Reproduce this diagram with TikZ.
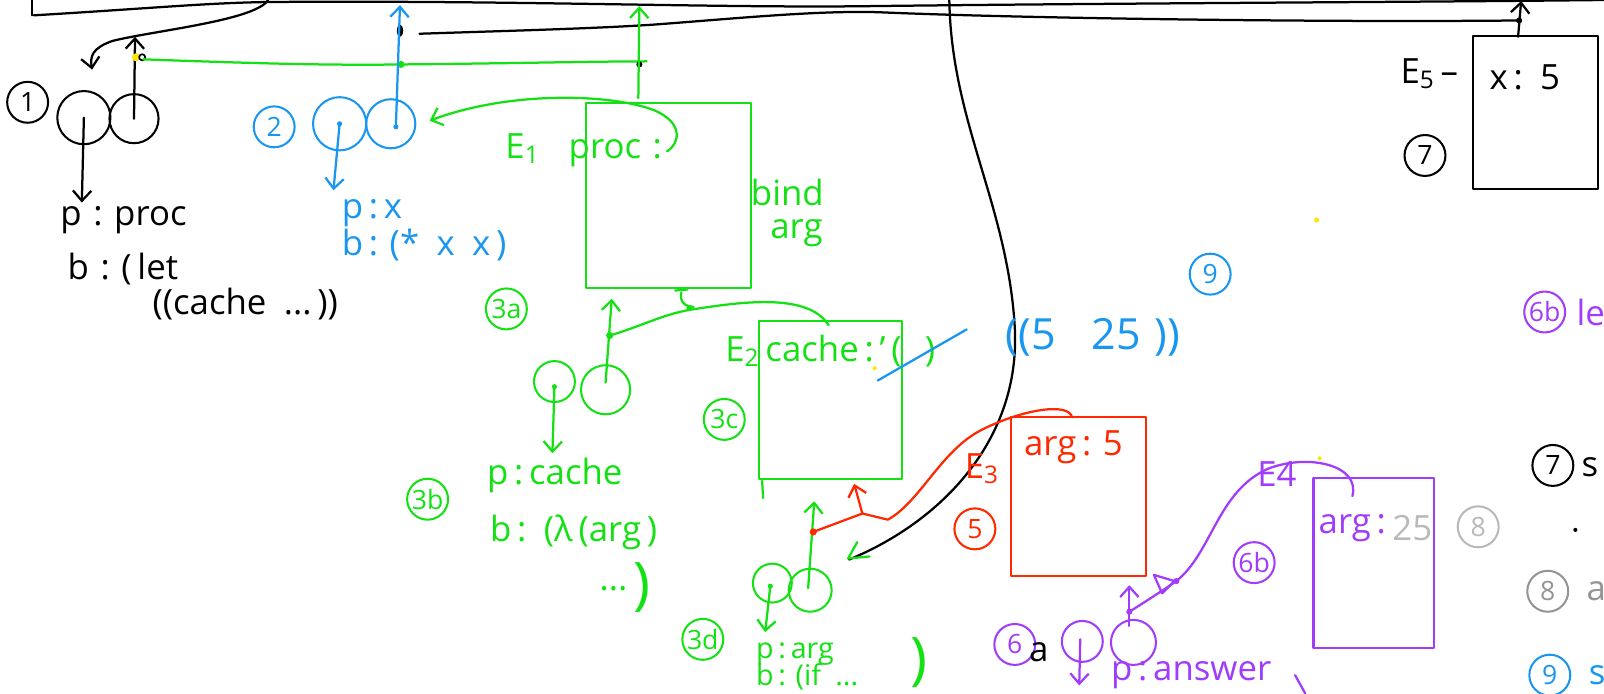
\documentclass[tikz,border=0pt]{standalone}
\usepackage{fontspec}
\setmainfont{Open Sans}
\usetikzlibrary{arrows.meta}
\definecolor{hgreen}{RGB}{20,225,20}
\definecolor{hblue}{RGB}{25,150,240}
\definecolor{hred}{RGB}{255,40,0}
\definecolor{hpurple}{RGB}{160,60,250}
\definecolor{hgray}{RGB}{185,185,185}
\definecolor{hyellow}{RGB}{255,230,0}
\begin{document}
\begin{tikzpicture}[x=0.5pt,y=-0.5pt, line width=1.1pt, line cap=round, line join=round,
  arr/.style={-{Straight Barb[length=5pt,width=9pt]}},
  numc/.style={circle,draw,line width=1pt,inner sep=0pt,minimum size=20pt,font=\fontsize{13}{13}\selectfont},
  cell/.style={circle,draw,line width=1pt,inner sep=0pt,minimum size=#1},
  lab/.style={font=\fontsize{17}{19}\selectfont, anchor=west, inner sep=0pt},
  envbox/.style={draw,line width=1pt,inner sep=0pt,minimum width=#1},
  flat/.style={inner sep=0pt}]
\useasboundingbox (0,0) rectangle (1568,678);
\clip (0,0) rectangle (1568,678);

% ---------- global frame (black) ----------
\draw (31,0) -- (31,15);
\draw (33,15) .. controls (150,8) and (200,3) .. (260,2) .. controls (500,0) and (700,8) .. (850,6) .. controls (1100,3) and (1400,2) .. (1568,0);
\draw (410,33) .. controls (500,30) and (580,28) .. (640,24) .. controls (720,18) and (800,10) .. (860,12) .. controls (1000,18) and (1300,22) .. (1485,20);
\fill (1485,20) circle (3);
\fill (391,30) ellipse (3 and 6);
\draw (928,0) .. controls (930,120) and (985,200) .. (992,320) .. controls (998,430) and (920,510) .. (830,547);

% ---------- pair 1 ----------
\node[numc] (n1) at (27,100) {1};
\node[cell=26pt] (c1l) at (82,115) {};
\node[cell=24pt] (c1r) at (131,116) {};
\coordinate (c1top) at (90,68);
\draw[arr] (262,0) .. controls (250,20) and (150,30) .. (110,40) .. controls (90,47) and (88,55) .. (c1top);
\coordinate (p1t) at (80,198);
\draw[arr] (c1l.center) -- (p1t);
\coordinate (p1u) at (132,36);
\draw[arr] (c1r.center) -- (p1u);
\fill[hyellow] (133,56) circle (4);
\draw[line width=0.8pt] (139,56) circle (3);
\node[lab] (t1a) at (58,215) {p\,\,:\,\,proc};
\node[lab] (t1b) at (65,263) {b\,\,:\,\,(\,let};
\node[lab] (t1c) at (148,297) {((cache\,\,\,...\,))};

% ---------- green link line ----------
\coordinate (g0) at (140,58);
\coordinate (gdot) at (392,63);
\coordinate (gend) at (632,60);
\draw[hgreen] (g0) .. controls (250,62) and (320,64) .. (gdot) .. controls (500,62) and (580,60) .. (gend);
\fill[hgreen] (gdot) circle (3.5);
\fill (625,63) circle (3);
\coordinate (gupb) at (624,96);
\coordinate (gupt) at (625,6);
\draw[hgreen,arr] (gupb) -- (gupt);

% ---------- pair 2 (blue) ----------
\node[numc,hblue] (n2) at (268,124) {2};
\node[cell=26pt,draw=hblue] (c2l) at (332,121) {};
\node[cell=24pt,draw=hblue] (c2r) at (382,121) {};
\fill[hblue] (c2l.center) circle (2.5);
\fill[hblue] (387,124) circle (2.5);
\coordinate (p2t) at (326,186);
\draw[hblue,arr] (c2l.center) -- (p2t);
\coordinate (p2u) at (391,5);
\draw[hblue,arr] (387,124) -- (p2u);
\node[lab,hblue] (t2a) at (333,208) {p\,:\,x};
\node[lab,hblue] (t2b) at (333,240) {b\,:\,\,(*\,\,\,x\,\,\,x\,)};

% ---------- E1 ----------
\node[envbox=80.5pt,minimum height=90.5pt,draw=hgreen] (E1) at (653.5,191.5) {};
\node[lab,hgreen] (E1l) at (493,147) {E\textsubscript{1}\,\,\,\,\,proc\,\,:};
\node[lab,hgreen] (E1b) at (733,188) {bind};
\node[lab,hgreen] (E1c) at (752,228) {arg};
\coordinate (c2tip) at (420,118);
\draw[hgreen,arr] (652,148) .. controls (665,140) and (668,120) .. (640,108) .. controls (600,92) and (500,88) .. (c2tip);
\node[numc,hgreen] (n3a) at (495,302) {3a};

% ---------- pair 3b ----------
\node[cell=20pt,draw=hgreen] (c3l) at (542,373) {};
\node[cell=24pt,draw=hgreen] (c3r) at (592,381) {};
\fill[hgreen] (542,378) circle (2.5);
\coordinate (p3u) at (598,292);
\draw[hgreen,arr] (592,374) -- (p3u);
\coordinate (g3dot) at (596,328);
\fill[hgreen] (g3dot) circle (3.5);
\draw[hgreen] (g3dot) .. controls (630,318) and (650,306) .. (680,302) .. controls (720,296) and (790,285) .. (810,318);
\draw[hgreen] (660,284) -- (672,283) (666,286) .. controls (664,295) and (670,300) .. (678,300);
\fill[hgreen] (674,301) circle (3);
\coordinate (p3t) at (540,443);
\draw[hgreen,arr] (542,378) -- (p3t);
\node[numc,hgreen] (n3b) at (418,488) {3b};
\node[lab,hgreen] (t3a) at (475,465) {p\,:\,cache};
\node[lab,hgreen] (t3b) at (478,520) {b\,:\,\,\,(λ\,(arg\,)};
\node[lab,hgreen] (t3c) at (585,575) {...};
\node[flat,hgreen,font=\fontsize{28}{30}\selectfont] (t3p) at (628,574) {)};

% ---------- E2 ----------
\node[envbox=70pt,minimum height=77pt,draw=hgreen] (E2) at (812,391) {};
\draw[hgreen] (745,470) -- (746,487);
\node[lab,hgreen] (E2l) at (708,343) {E\textsubscript{2}\,cache\,:\,'\,(\,\,\,\,)};
\fill[hyellow] (855,360) circle (2);
\node[numc,hgreen] (n3c) at (708,410) {3c};
\draw[hblue] (858,372) -- (945,322);

% ---------- pair 3d ----------
\node[cell=19pt,draw=hgreen] (c4l) at (755,570) {};
\node[cell=21pt,draw=hgreen] (c4r) at (792,577) {};
\fill[hgreen] (753,573) circle (2.5);
\coordinate (p4t) at (748,618);
\draw[hgreen,arr] (753,573) -- (p4t);
\coordinate (p4u) at (796,490);
\draw[hgreen,arr] (790,575) -- (p4u);
\node[numc,hgreen] (n3d) at (687,625) {3d};
\node[lab,hgreen,font=\fontsize{14}{15}\selectfont] (t4a) at (738,639) {p\,:\,arg};
\node[lab,hgreen,font=\fontsize{14}{15}\selectfont] (t4b) at (738,662) {b\,:\,\,(if\,\,\,...};
\node[flat,hgreen,font=\fontsize{28}{30}\selectfont] (t4p) at (898,648) {)};
\draw[hgreen] (838,530) -- (829,546) -- (850,544);

% ---------- red (E3) ----------
\coordinate (rdot) at (795,520);
\coordinate (rpk) at (843,502);
\fill[hred] (rdot) circle (3.5);
\draw[hred] (rdot) -- (rpk) -- (868,508) .. controls (900,490) and (920,440) .. (960,420) .. controls (1000,400) and (1045,393) .. (1048,408);
\coordinate (rtip) at (835,473);
\draw[hred,arr] (rpk) -- (rtip);
\node[envbox=66pt,minimum height=77.5pt,draw=hred] (E3) at (1054,485.5) {};
\node[lab,hred] (E3a) at (1000,437) {arg\,:\,\,5};
\node[lab,hred] (E3l) at (942,458) {E\textsubscript{3}};
\node[numc,hred] (n5) at (953,517) {5};

% ---------- purple (E4, pair 6a) ----------
\node[envbox=59pt,minimum height=83pt,draw=hpurple] (E4) at (1343,550) {};
\node[lab,hpurple] (E4l) at (1228,463) {E4};
\fill[hyellow] (1290,448) circle (2);
\node[lab,hpurple] (E4a) at (1288,516) {arg\,:};
\node[lab,hgray] (E4b) at (1360,516) {25};
\node[numc,hgray] (n8) at (1445,515) {8};
\node[numc,hpurple] (n6b) at (1226,550) {6b};
\node[cell=20pt,draw=hpurple] (c6l) at (1058,627) {};
\node[cell=22pt,draw=hpurple] (c6r) at (1108,628) {};
\coordinate (pdot) at (1104,598);
\fill[hpurple] (pdot) circle (3);
\draw[hpurple] (pdot) .. controls (1120,588) and (1140,575) .. (1150,568) .. controls (1185,540) and (1190,480) .. (1240,458) .. controls (1280,443) and (1330,455) .. (1322,485);
\draw[hpurple] (1148,568) -- (1128,562) -- (1136,580) -- cycle;
\fill[hpurple] (1150,568) circle (3);
\coordinate (p6u) at (1104,572);
\draw[hpurple,arr] (1104,612) -- (p6u);
\coordinate (p6t) at (1055,670);
\draw[hpurple,arr] (1056,625) -- (p6t);
\node[numc,hpurple] (n6a) at (992,630) {6};
\node[lab] (n6aa) at (1005,638) {a};
\node[lab,hpurple] (t6a) at (1085,660) {p\,:\,answer};
\draw[hpurple] (1266,660) -- (1276,678);

% ---------- E5 ----------
\node[envbox=61pt,minimum height=75pt] (E5) at (1501,110) {};
\node[lab] (E5l) at (1368,72) {E\textsubscript{5}\,–};
\node[lab] (E5a) at (1455,76) {x\,:\,\,\,5};
\node[numc] (n7) at (1393,152) {7};
\coordinate (e5up) at (1487,1);
\draw[arr] (1484,36) -- (e5up);
\fill[hyellow] (1287,215) circle (2.5);

% ---------- right margin notes ----------
\node[numc,hpurple] (r6) at (1510,305) {6b};
\node[lab,hpurple] (r6t) at (1540,305) {le};
\node[numc] (r7) at (1518,455) {7};
\node[lab] (r7t) at (1545,457) {s};
\fill (1540,518) circle (2);
\node[numc,hgray!80!black] (r8) at (1513,578) {8};
\node[lab,hgray!80!black] (r8t) at (1550,578) {a};
\node[numc,hblue] (r9) at (1515,660) {9};
\node[lab,hblue] (r9t) at (1552,660) {s};

% ---------- result ----------
\node[lab,hblue,font=\fontsize{21}{23}\selectfont] (res) at (982,330) {((5\,\,\,\,\,25\,\,))};
\node[numc,hblue] (n9) at (1183,268) {9};
\end{tikzpicture}
\end{document}
